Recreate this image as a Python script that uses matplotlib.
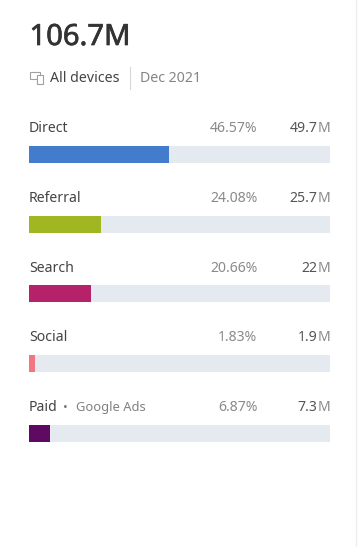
import matplotlib
matplotlib.use('Agg')
import matplotlib.pyplot as plt
import matplotlib.patheffects as pe
from matplotlib.patches import Rectangle

channels = ['Direct', 'Referral', 'Search', 'Social', 'Paid']
shares = [46.57, 24.08, 20.66, 1.83, 6.87]
share_labels = ['46.57%', '24.08%', '20.66%', '1.83%', '6.87%']
visits = ['49.7', '25.7', '22', '1.9', '7.3']
colors = ['#437ccc', '#a0b722', '#b5226a', '#f0777f', '#5f0a62']

W, H = 361, 547
plt.rcParams['font.family'] = ['Noto Sans', 'DejaVu Sans']

fig = plt.figure(figsize=(W / 100, H / 100), dpi=100, facecolor='white')

# overlay in pixel coordinates for the text
ax = fig.add_axes([0, 0, 1, 1])
ax.set_xlim(0, W)
ax.set_ylim(H, 0)
ax.axis('off')

# bars, x axis is percent of the track
bar_left, bar_right = 29, 330
bar_ax = fig.add_axes([bar_left / W, 0, (bar_right - bar_left) / W, 1])
bar_ax.set_xlim(0, 100)
bar_ax.set_ylim(H, 0)
bar_ax.axis('off')
bar_ax.patch.set_alpha(0)

row_y = [154.5, 224.5, 293.5, 363.5, 433]
baseline = [132, 202, 272, 341, 411]

for i, name in enumerate(channels):
    bar_ax.barh(row_y[i], 100, height=17, color='#e4eaf0', linewidth=0)
    bar_ax.barh(row_y[i], shares[i], height=17, color=colors[i], linewidth=0)
    ax.text(29, baseline[i], name, fontsize=10.1, color='#444444', va='baseline', ha='left')
    ax.text(257.5, baseline[i], share_labels[i], fontsize=10.1, color='#8a8a8a', va='baseline', ha='right')
    ax.text(317.5, baseline[i], visits[i], fontsize=10.1, color='#555555', va='baseline', ha='right')
    ax.text(317.5, baseline[i], 'M', fontsize=10.1, color='#8a8a8a', va='baseline', ha='left')

ax.text(63.5, 411, '\u2022', fontsize=9, color='#777777', va='baseline', ha='left')
ax.text(76, 411, 'Google Ads', fontsize=9.3, color='#808080', va='baseline', ha='left')

# header
ax.text(29.5, 45, '106.7M', fontsize=21, color='#333333', va='baseline', ha='left',
        path_effects=[pe.withStroke(linewidth=0.5, foreground='#333333')])
ax.text(50.5, 82, 'All devices', fontsize=10.2, color='#444444', va='baseline', ha='left')
ax.text(140, 82, 'Dec 2021', fontsize=10.2, color='#858585', va='baseline', ha='left')
ax.plot([129.5, 129.5], [67, 89], color='#d8d8d8', lw=0.8)

# devices icon
ax.add_patch(Rectangle((30, 71.5), 9.5, 7, fill=False, ec='#a0a0a0', lw=0.8))
ax.add_patch(Rectangle((36.5, 75), 6, 8.5, facecolor='white', ec='#a0a0a0', lw=0.8, zorder=3))

# right edge of the card
ax.plot([355.5, 355.5], [0, H], color='#eeeeee', lw=1)

fig.savefig('out.png', dpi=100, facecolor='white')
